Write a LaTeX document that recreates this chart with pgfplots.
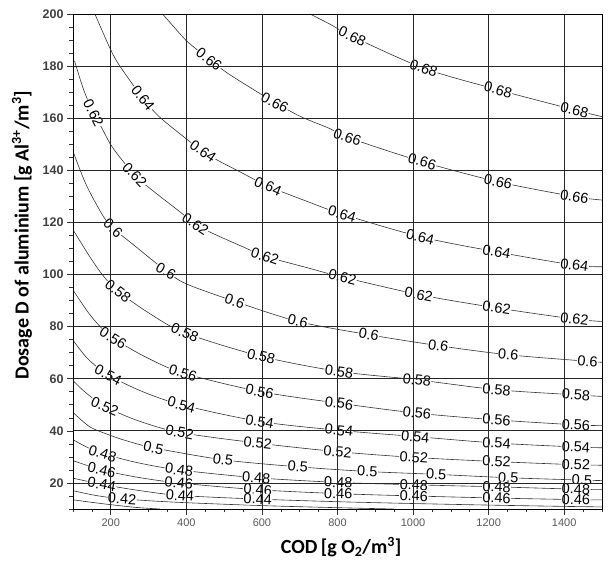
\documentclass[border=0pt]{standalone}
\usepackage{pgfplots}
\pgfplotsset{compat=1.18}
\usepackage{fontspec}
\setmainfont{Liberation Sans}
\newfontfamily\calib{Carlito}
\newcommand\clab[4]{\node[fill=white,inner sep=0.5pt,rotate=#3,font=\fontsize{14.5}{16}\selectfont,text=black] at (axis cs:#1,#2) {#4};}
\pgfplotsset{cl/.style={black!80, line width=0.6pt, smooth, tension=0.5, mark=none}}
\begin{document}
\begin{tikzpicture}
\begin{axis}[name=ax,
 scale only axis, width=529pt, height=495pt,
 xmin=100,xmax=1500,ymin=10,ymax=200,
 xtick={200,400,...,1400}, ytick={20,40,...,200},
 minor xtick={100,150,...,1500}, minor ytick={10,15,...,200},
 grid=major, major grid style={black!85,line width=0.8pt},
 minor grid style={draw=none},
 axis line style={black,line width=0.9pt},
 tick align=outside, major tick length=6pt, minor tick length=3.5pt,
 tick style={black!80,line width=0.6pt},
 tick pos=left,
 axis on top,
 /pgf/number format/1000 sep={}, /pgf/number format/assume math mode=true,
 xticklabel style={font=\fontsize{11}{13}\selectfont, text=black!65},
 yticklabel style={font=\bfseries\fontsize{12.5}{14}\selectfont, text=black!75},
 xlabel={COD\,[g O\textsubscript{2}/m\textsuperscript{3}]},
 ylabel={Dosage D of aluminium [g Al\textsuperscript{3+}/m\textsuperscript{3}]},
 xlabel style={at={(axis description cs:0.507,-0.0768)}, anchor=center, font=\calib\bfseries\fontsize{20}{24}\selectfont},
 ylabel style={at={(axis description cs:-0.0964,0.5535)}, anchor=center, font=\calib\bfseries\fontsize{20}{24}\selectfont},
]
% 0.68
\addplot[cl] coordinates {(727,200)(780,196.1)(839,191.4)(1028,179.2)(1225,170.9)(1427,163.2)(1500,160.6)};
% 0.66
\addplot[cl] coordinates {(337,200)(380,192.9)(400,189.7)(460,182.6)(514,176.8)(600,169)(634,166)(703,160.6)(780,156)(826,152.7)(1024,143.3)(1225,135.6)(1427,129.9)(1500,128.6)};
% 0.64
\addplot[cl] coordinates {(158,200)(199,186.5)(224,180)(285,167.7)(328,160.6)(398,152.3)(444,147.3)(477,144.3)(550,138.8)(616,133.9)(719,128.1)(812,123.2)(1019,114.5)(1221,108.7)(1427,103.6)(1500,103)};
% 0.62
\addplot[cl] coordinates {(104,182)(128,171)(154,162)(176,156.3)(206,148.5)(263,138.2)(311,132.2)(381,124.3)(424,119.3)(468,115.9)(558,110.1)(608,107)(728,102.3)(800,99.5)(1015,92.3)(1221,87.2)(1427,82.9)(1500,82)};
% 0.60
\addplot[cl] coordinates {(102,146.5)(136,134.1)(180,122.4)(206,117.8)(267,110.6)(346,101.4)(400,96.4)(528,89.7)(695,82)(883,76.9)(1067,72.7)(1252,69.2)(1462,66.7)(1500,66.3)};
% 0.58
\addplot[cl] coordinates {(103,116.5)(145,106.7)(180,99.5)(219,93.6)(300,85.3)(396,77.6)(598,68.6)(804,62.8)(1010,59.6)(1221,55.8)(1431,53.8)(1500,53.2)};
% 0.56
\addplot[cl] coordinates {(102,93.6)(140,85.5)(170,80.3)(206,75.6)(290,68.5)(391,62.2)(594,55.1)(804,50.6)(1010,46.8)(1221,44.2)(1431,42.3)(1500,42)};
% 0.54
\addplot[cl] coordinates {(102,74.4)(140,67.5)(193,61.5)(280,55.3)(387,50)(594,43.6)(804,40.2)(1006,37.8)(1221,35.3)(1431,33.8)(1500,33.5)};
% 0.52
\addplot[cl] coordinates {(102,59)(135,54.5)(184,49.4)(270,44)(382,39.4)(589,35.3)(800,32)(1002,29.8)(1221,28.2)(1431,27)(1500,26.8)};
% 0.50
\addplot[cl] coordinates {(102,46.8)(145,41.5)(200,38.2)(241,36.2)(313,33.5)(497,28.9)(695,26.2)(879,24.4)(1061,23.3)(1252,22)(1447,21.1)(1500,20.9)};
% 0.48
\addplot[cl] coordinates {(101,36.5)(140,33.5)(178,31.3)(270,27.8)(381,25)(585,22)(802,20.2)(1002,19.3)(1221,18.5)(1431,17.6)(1500,17.4)};
% 0.46
\addplot[cl] coordinates {(101,28.5)(176,25)(270,22.2)(380,20)(589,17.4)(802,15.9)(1002,15)(1221,14.2)(1431,13.6)(1500,13.5)};
% 0.44
\addplot[cl] coordinates {(101,21.8)(176,19.5)(270,17.2)(383,15.2)(589,13.8)(800,12.8)(1000,12.1)(1200,11.5)(1400,11)(1500,10.8)};
% 0.42
\addplot[cl] coordinates {(101,17)(160,15.2)(230,13.9)(372,12.6)(600,11.3)(800,10.5)(950,10)};
% 0.40
\addplot[cl] coordinates {(101,13.5)(180,12)(267,10.6)(330,10)};
% labels
\clab{839}{191.4}{-25}{0.68}\clab{1028}{179.2}{-20}{0.68}\clab{1225}{170.9}{-15.5}{0.68}\clab{1427}{163.2}{-14}{0.68}
\clab{460}{182.6}{-38}{0.66}\clab{634}{166}{-28}{0.66}\clab{826}{152.7}{-20}{0.66}\clab{1024}{143.3}{-16}{0.66}\clab{1225}{135.6}{-13}{0.66}\clab{1427}{129.9}{-10}{0.66}
\clab{285}{167.7}{-52}{0.64}\clab{444}{147.3}{-35}{0.64}\clab{616}{133.9}{-24}{0.64}\clab{812}{123.2}{-17}{0.64}\clab{1019}{114.5}{-13.5}{0.64}\clab{1221}{108.7}{-10.5}{0.64}\clab{1427}{103.6}{-8}{0.64}
\clab{154}{162}{-63}{0.62}\clab{263}{138.2}{-47}{0.62}\clab{424}{119.3}{-34}{0.62}\clab{608}{107}{-19}{0.62}\clab{813}{99}{-14}{0.62}\clab{1015}{92.3}{-11}{0.62}\clab{1221}{87.2}{-9}{0.62}\clab{1427}{82.9}{-7}{0.62}
\clab{206}{117.8}{-43}{0.6}\clab{346}{101.4}{-30}{0.6}\clab{528}{89.7}{-20}{0.6}\clab{695}{82}{-14}{0.6}\clab{883}{76.9}{-10}{0.6}\clab{1067}{72.7}{-8}{0.6}\clab{1252}{69.2}{-6}{0.6}\clab{1462}{66.7}{-5}{0.6}
\clab{219}{93.6}{-39}{0.58}\clab{396}{77.6}{-23}{0.58}\clab{598}{68.6}{-13}{0.58}\clab{804}{62.8}{-8.5}{0.58}\clab{1010}{59.6}{-6.5}{0.58}\clab{1221}{55.8}{-5}{0.58}\clab{1431}{53.8}{-4}{0.58}
\clab{206}{75.6}{-32}{0.56}\clab{391}{62.2}{-18}{0.56}\clab{594}{55.1}{-11}{0.56}\clab{804}{50.6}{-8}{0.56}\clab{1010}{46.8}{-6}{0.56}\clab{1221}{44.2}{-4.5}{0.56}\clab{1431}{42.3}{-3}{0.56}
\clab{193}{61.5}{-28}{0.54}\clab{387}{50}{-15}{0.54}\clab{594}{43.6}{-9}{0.54}\clab{804}{40.2}{-6}{0.54}\clab{1006}{37.8}{-5}{0.54}\clab{1221}{35.3}{-4}{0.54}\clab{1431}{33.8}{-3}{0.54}
\clab{184}{49.4}{-23}{0.52}\clab{382}{39.4}{-11}{0.52}\clab{589}{35.3}{-7}{0.52}\clab{800}{32}{-5}{0.52}\clab{1002}{29.8}{-4}{0.52}\clab{1221}{28.2}{-3}{0.52}\clab{1431}{27}{-2}{0.52}
\clab{313}{33.5}{-12}{0.5}\clab{497}{28.9}{-7.5}{0.5}\clab{695}{26.2}{-5}{0.5}\clab{879}{24.4}{-3.5}{0.5}\clab{1061}{23.3}{-3.5}{0.5}\clab{1252}{22}{-3}{0.5}\clab{1447}{21.1}{-2}{0.5}
\clab{178}{31.3}{-17}{0.48}\clab{381}{25}{-8}{0.48}\clab{585}{22}{-4}{0.48}\clab{802}{20.2}{-2.5}{0.48}\clab{1002}{19.3}{-2.5}{0.48}\clab{1221}{18.5}{-2.5}{0.48}\clab{1431}{17.6}{-2}{0.48}
\clab{176}{25}{-13}{0.46}\clab{380}{20}{-6}{0.46}\clab{589}{17.4}{-3}{0.46}\clab{802}{15.9}{-2}{0.46}\clab{1002}{15}{-2}{0.46}\clab{1221}{14.2}{-2}{0.46}\clab{1431}{13.6}{-1.5}{0.46}
\clab{176}{19.5}{-10}{0.44}\clab{383}{15.2}{-4}{0.44}\clab{589}{13.8}{-2}{0.44}
\clab{230}{13.9}{-4}{0.42}
\end{axis}
\pgfresetboundingbox
\path[use as bounding box] ([xshift=-73pt,yshift=-52pt]ax.south west) rectangle ([xshift=9pt,yshift=14pt]ax.north east);
\end{tikzpicture}
\end{document}
